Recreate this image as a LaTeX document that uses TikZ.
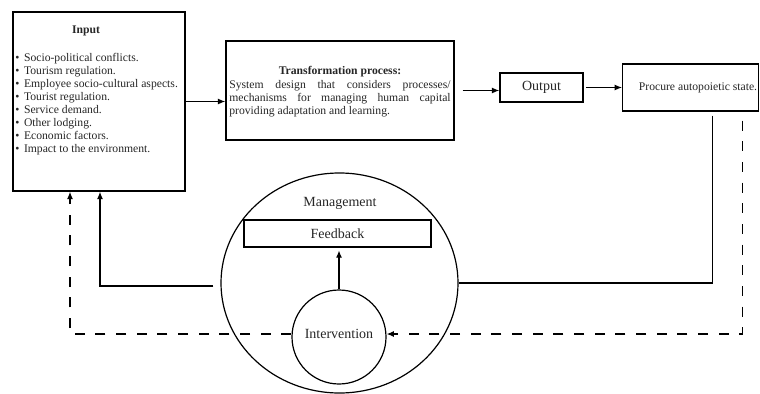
\documentclass[tikz,border=0pt]{standalone}
\usepackage{fontspec}
\setmainfont{Liberation Serif}
\usetikzlibrary{arrows.meta,shapes.geometric,calc}
\begin{document}
\begin{tikzpicture}[x=0.75pt,y=-0.75pt,
  box/.style={draw,line width=1.1pt,inner sep=0pt},
  link/.style={line width=0.9pt},
  tip/.style={-{Latex[length=5.5pt,width=4.5pt]}},
  arr/.style={link,tip},
  dlink/.style={link,dash pattern=on 7.5pt off 8pt},
  small/.style={font=\fontsize{8.75}{9.8}\selectfont,text=black!85},
  big/.style={font=\fontsize{10.5}{12}\selectfont,text=black!85}]
\useasboundingbox (0,0) rectangle (760,393);

% boxes of the main flow
\node[box,minimum width=129pt,minimum height=134.25pt] (input) at (99,101.5) {};
\node[box,minimum width=171pt,minimum height=74.25pt] (trans) at (340,90.5) {};
\node[box,minimum width=62.25pt,minimum height=21.75pt] (output) at (541.5,87.5) {};
\node[box,minimum width=102pt,minimum height=35.25pt] (procure) at (690.75,87.5) {};

% management ellipse with feedback and intervention
\node[draw,line width=0.9pt,ellipse,inner sep=0pt,minimum width=177.75pt,minimum height=165pt] (mgmt) at (339.5,283) {};
\node[box,minimum width=140.25pt,minimum height=20.25pt] (fb) at (337.5,233.5) {};
\node[draw,line width=0.9pt,circle,inner sep=0pt,minimum size=70.5pt] (interv) at (339,337) {};

% texts
\node[small,font=\fontsize{8.75}{9.8}\selectfont\bfseries] (inhead) at (86,31) {Input};
\node[small,anchor=north west,align=left,inner sep=0pt] (inlist) at (15,53) {%
\textbullet\hspace{3.5pt}Socio-political conflicts.\\
\textbullet\hspace{3.5pt}Tourism regulation.\\
\textbullet\hspace{3.5pt}Employee socio-cultural aspects.\\
\textbullet\hspace{3.5pt}Tourist regulation.\\
\textbullet\hspace{3.5pt}Service demand.\\
\textbullet\hspace{3.5pt}Other lodging.\\
\textbullet\hspace{3.5pt}Economic factors.\\
\textbullet\hspace{3.5pt}Impact to the environment.};
\node[small,font=\fontsize{8.75}{9.8}\selectfont\bfseries] (transhead) at (340,72) {Transformation process:};
\node[small,anchor=north,text width=166pt,align=justify,inner sep=0pt] (transbody) at (340,80) {%
System design that considers processes/\linebreak mechanisms for managing human capital\linebreak providing adaptation and learning.};
\node[big] (outtxt) at (541.5,87.5) {Output};
\node[small] (proctxt) at (698,87.5) {Procure autopoietic state.};
\node[big] (mgmttxt) at (340,203) {Management};
\node[big] at (fb.center) (fbtxt) {Feedback};
\node[big] at (339,334) (intervtxt) {Intervention};

% main flow
\draw[arr] (input.east) -- (input.east -| trans.west);
\draw[arr,shorten <=6pt] (trans.east) -- (trans.east -| output.west);
\draw[arr,shorten <=2pt] (output.east) -- (procure.west);

% solid feedback loop
\draw[link] ($(procure.south)+(22,4)$) |- (mgmt.east);
\draw[arr] ($(mgmt.west)+(-7,3)$) -| ($(input.south)+(1,0)$);
\draw[arr,shorten >=2pt] (interv.north) -- (interv.north |- fb.south);

% dashed intervention loop
\coordinate (dright) at ($(procure.south)+(52,9)$);
\coordinate (dleft) at ($(input.south)+(-29,0)$);
\draw[dlink,tip] (dright) |- ($(interv.east)+(0,-3)$);
\draw[dlink,tip] ($(interv.west)+(0,-3)$) -| (dleft);
\end{tikzpicture}
\end{document}
